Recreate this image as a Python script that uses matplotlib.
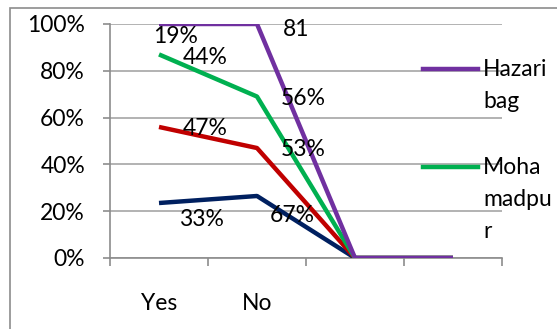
import matplotlib
matplotlib.use('Agg')
import matplotlib.pyplot as plt
from matplotlib.lines import Line2D
from matplotlib.patches import Rectangle

plt.rcParams['font.family'] = ['Lato', 'DejaVu Sans']

categories = ['Yes', 'No', '', '']
hazaribag = [1.00, 1.00, 0.0, 0.0]
mohamadpur = [0.87, 0.69, 0.0, 0.0]
series_red = [0.56, 0.47, 0.0, 0.0]
series_navy = [0.235, 0.265, 0.0, 0.0]

# data labels next to the Yes / No points
labels_yes = ['19%', '44%', '47%', '33%']
labels_no = ['81', '56%', '53%', '67%']
labels_yes_y = [0.945, 0.855, 0.555, 0.165]
labels_no_y = [0.975, 0.68, 0.465, 0.18]
labels_yes_x = [1.17, 1.47, 1.47, 1.43]
labels_no_x = [2.4, 2.47, 2.47, 2.36]

FS = 16.5
W, H = 557, 329
fig = plt.figure(figsize=(W / 100, H / 100), dpi=100)
fig.patch.set_facecolor('white')

# chart frame
fig.add_artist(Rectangle((10 / W, -0.1), 1.2, 1 - 8 / H + 0.1, transform=fig.transFigure,
                         fill=False, edgecolor='#8c8c8c', linewidth=1.2))

ax = fig.add_axes([110 / W, 71 / H, 392 / W, 234 / H])
x = list(range(1, len(categories) + 1))

ax.plot(x, series_navy, color='#002060', lw=3.2, solid_capstyle='butt', zorder=3)
ax.plot(x, series_red, color='#C00000', lw=3.2, solid_capstyle='butt', zorder=3)
ax.plot(x, mohamadpur, color='#00B050', lw=3.2, solid_capstyle='butt', zorder=3)
ax.plot(x, hazaribag, color='#7030A0', lw=3.2, solid_capstyle='butt', zorder=3)

ax.set_xlim(0.5, len(categories) + 0.5)
ax.set_ylim(0, 1)
ax.set_yticks([0, 0.2, 0.4, 0.6, 0.8, 1.0])
ax.set_yticklabels(['0%', '20%', '40%', '60%', '80%', '100%'], fontsize=FS)
ax.yaxis.grid(True, color='#a6a6a6', lw=1.2)
ax.set_axisbelow(True)

ax.set_xticks(x)
ax.set_xticklabels(categories, fontsize=FS)
ax.set_xticks([i + 0.5 for i in range(len(categories) + 1)], minor=True)
ax.tick_params(axis='x', which='major', length=0, pad=25)
ax.tick_params(axis='x', which='minor', length=6, width=1.2, color='#8c8c8c')
ax.tick_params(axis='y', length=5, width=1.2, color='#8c8c8c', pad=13)

for side in ['top', 'right']:
    ax.spines[side].set_visible(False)
for side in ['left', 'bottom']:
    ax.spines[side].set_color('#8c8c8c')
    ax.spines[side].set_linewidth(1.2)

for t, xv, yv in zip(labels_yes, labels_yes_x, labels_yes_y):
    ax.text(xv, yv, t, fontsize=FS, ha='center', va='center', zorder=4)
for t, xv, yv in zip(labels_no, labels_no_x, labels_no_y):
    ax.text(xv, yv, t, fontsize=FS, ha='center', va='center', zorder=4)

# legend
legend_items = [('#7030A0', ['Hazari', 'bag'], 69), ('#00B050', ['Moha', 'madpu', 'r'], 167)]
for color, lines, ypx in legend_items:
    fig.add_artist(Line2D([423 / W, 478 / W], [1 - ypx / H, 1 - ypx / H],
                          transform=fig.transFigure, color=color, lw=3.2))
    for i, s in enumerate(lines):
        fig.text(483 / W, 1 - (ypx + i * 32) / H, s, fontsize=FS, ha='left', va='center')

fig.savefig('out.png', dpi=100)
